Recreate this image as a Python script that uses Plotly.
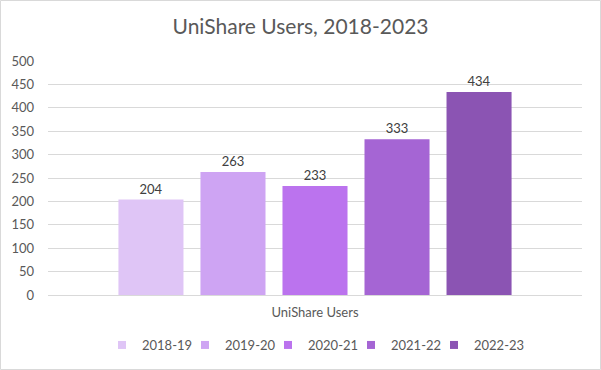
import plotly.graph_objects as go

categories = ["UniShare Users"]
series_names = ["2018-19", "2019-20", "2020-21", "2021-22", "2022-23"]
series_values = [204, 263, 233, 333, 434]
colors = ["#DFC5F6", "#CEA4F3", "#BB73EE", "#A565D4", "#8B54B3"]
y_ticks = [0, 50, 100, 150, 200, 250, 300, 350, 400, 450, 500]

FONT = "Lato, 'Open Sans', sans-serif"
W, H = 601, 370
ML, MR, MT, MB = 48, 19, 61, 75

fig = go.Figure()
n = len(series_names)
for i, (name, val, col) in enumerate(zip(series_names, series_values, colors)):
    fig.add_trace(go.Bar(
        name=name, x=categories, y=[val], legendgroup=name, showlegend=False,
        marker=dict(color=col, line=dict(width=0)),
        text=[str(val)], textposition="outside", cliponaxis=False,
        textfont=dict(family=FONT, size=13, color="#404040"),
    ))
    # legend entry with a small square symbol, linked to the bar
    fig.add_trace(go.Scatter(
        name=name, x=[None], y=[None], legendgroup=name, showlegend=True,
        mode="markers", marker=dict(symbol="square", size=8, color=col),
        hoverinfo="skip", legendwidth=(38 if i < n - 1 else 56),
    ))

pw = W - ML - MR
ph = H - MT - MB
fig.add_shape(type="rect", xref="paper", yref="paper",
              x0=(-ML + 0.5) / pw, x1=(pw + MR - 0.5) / pw,
              y0=(-MB + 0.5) / ph, y1=(ph + MT - 0.5) / ph,
              line=dict(color="#D9D9D9", width=1), layer="below")

fig.update_layout(
    width=W, height=H,
    margin=dict(l=ML, r=MR, t=MT, b=MB, autoexpand=False),
    paper_bgcolor="white", plot_bgcolor="white",
    title=dict(text="UniShare Users, 2018-2023", x=0.5, xanchor="center",
               y=1 - 27 / H, yanchor="middle",
               font=dict(family=FONT, size=21, color="#595959")),
    barmode="group", bargap=0.232, bargroupgap=0.207,
    showlegend=True,
    legend=dict(orientation="h", xref="paper", x=(102 - ML) / pw, xanchor="left",
                yref="container", y=1 - 345 / H, yanchor="middle",
                font=dict(family=FONT, size=13, color="#595959"),
                bgcolor="rgba(0,0,0,0)", borderwidth=0),
    xaxis=dict(showline=True, linecolor="#D9D9D9", linewidth=1,
               tickfont=dict(family=FONT, size=13, color="#595959"),
               ticks="", fixedrange=True, automargin=False,
               ticklabelstandoff=5),
    yaxis=dict(range=[0, 500], tickvals=y_ticks, showgrid=True,
               gridcolor="#D9D9D9", gridwidth=1, zeroline=False,
               tickfont=dict(family=FONT, size=13, color="#595959"),
               ticks="", ticklabelstandoff=13, automargin=False),
)

fig.write_html("out.html", config={"displayModeBar": False},
               post_script="document.body.style.margin='0';")
